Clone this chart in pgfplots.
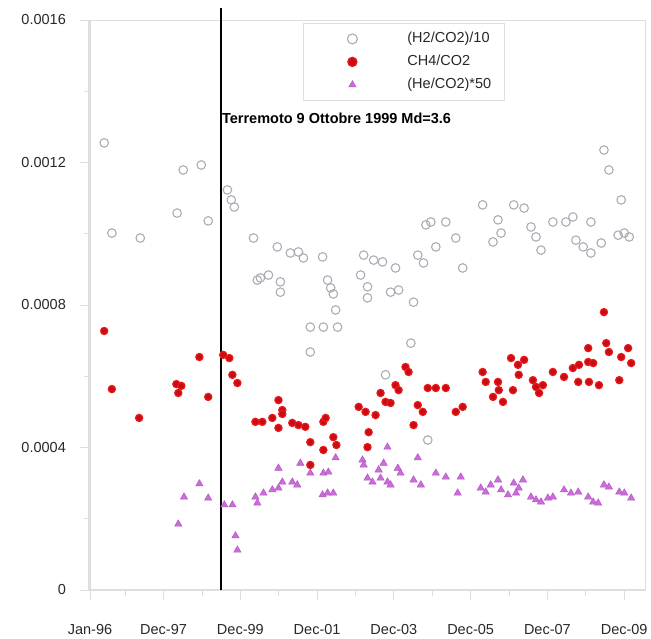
\documentclass[border=0pt]{standalone}
\usepackage{pgfplots}
\pgfplotsset{compat=1.18}
\usepackage{fontspec}
\setmainfont{Liberation Sans}

\definecolor{htwo}{RGB}{172,172,182}
\definecolor{chfour}{RGB}{235,25,25}
\definecolor{chfourdark}{RGB}{200,12,22}
\definecolor{heco}{RGB}{206,106,222}
\definecolor{axisgray}{RGB}{222,222,222}
\definecolor{labgray}{RGB}{40,40,40}

\newcommand{\lab}{\fontsize{14.5bp}{17bp}\selectfont}

% legend entry: a single mark with room on both sides
\pgfplotsset{
  legmark/.style={legend image code/.code={%
    \path[draw=none] (-39bp,0bp) -- (52bp,0bp);
    \path[##1, draw=none, mark size=#1] plot coordinates {(0bp,0bp)};}},
}

\begin{document}
\begin{tikzpicture}
\begin{axis}[
  at={(0,0)}, anchor=south west,
  scale only axis,
  width=555bp, height=570bp,
  xmin=1996.0, xmax=2010.46,
  ymin=0, ymax=0.0016,
  clip=false,
  scaled y ticks=false,
  axis line style={draw=axisgray, line width=0.8bp},
  xtick={1996.0,1997.917,1999.917,2001.917,2003.917,2005.917,2007.917,2009.917},
  xticklabels={Jan-96,Dec-97,Dec-99,Dec-01,Dec-03,Dec-05,Dec-07,Dec-09},
  minor xtick={1996.917,1998.917,2000.917,2002.917,2004.917,2006.917,2008.917},
  ytick={0,0.0004,0.0008,0.0012,0.0016},
  yticklabels={0,0.0004,0.0008,0.0012,0.0016},
  minor ytick={0.0002,0.0006,0.0010,0.0014},
  tick align=outside,
  major tick length=10bp, minor tick length=6bp,
  tick style={draw=axisgray, line width=0.8bp},
  xtick pos=bottom, ytick pos=left,
  /pgf/number format/assume math mode=true,
  xticklabel style={font=\lab, text=labgray, inner sep=0pt, anchor=north, yshift=-24bp},
  yticklabel style={font=\lab, text=labgray, inner sep=0pt, anchor=east, xshift=-14bp},
  legend style={
    at={(213bp,567bp)}, anchor=north west,
    draw=axisgray, line width=0.8bp, fill=white,
    inner xsep=10bp, inner ysep=4bp,
    font=\lab, text=labgray,
    nodes={inner xsep=3bp, inner ysep=4bp, text height=11bp, text depth=4bp},
    row sep=0pt, column sep=0pt,
  },
  legend cell align=left,
]

% H2/CO2 ratio, divided by 10
\addplot[only marks, mark=o, mark size=4.3bp, mark options={draw=htwo, line width=1.1bp}, legmark=5bp]
coordinates {
(1996.37,0.001255) (1996.57,0.001002) (1997.31,0.000988) (1998.27,0.001058)
(1998.43,0.001179) (1998.90,0.001193) (1999.08,0.001036) (1999.58,0.001123)
(1999.68,0.001095) (1999.76,0.001075) (2000.26,0.000988) (2000.36,0.000870)
(2000.44,0.000876) (2000.65,0.000884) (2000.88,0.000963) (2000.96,0.000865)
(2000.96,0.000836) (2001.22,0.000946) (2001.43,0.000949) (2001.56,0.000932)
(2001.74,0.000738) (2001.74,0.000668) (2002.06,0.000935) (2002.08,0.000738)
(2002.19,0.000870) (2002.27,0.000848) (2002.34,0.000831) (2002.40,0.000786)
(2002.45,0.000738) (2003.05,0.000884) (2003.13,0.000940) (2003.23,0.000851)
(2003.23,0.000820) (2003.39,0.000926) (2003.62,0.000921) (2003.70,0.000604)
(2003.83,0.000836) (2004.04,0.000842) (2003.96,0.000904) (2004.36,0.000693)
(2004.43,0.000808) (2004.54,0.000940) (2004.69,0.000918) (2004.75,0.001025)
(2004.88,0.001033) (2005.01,0.000963) (2005.27,0.001033) (2005.53,0.000988)
(2005.71,0.000904) (2004.80,0.000421) (2006.23,0.001081) (2006.50,0.000977)
(2006.63,0.001039) (2006.71,0.001002) (2007.04,0.001081) (2007.31,0.001072)
(2007.49,0.001019) (2007.62,0.000991) (2007.75,0.000954) (2008.06,0.001033)
(2008.40,0.001033) (2008.58,0.001047) (2008.66,0.000982) (2008.85,0.000963)
(2009.05,0.000946) (2009.05,0.001033) (2009.32,0.000974) (2009.39,0.001235)
(2009.52,0.001179) (2009.84,0.001095) (2009.76,0.000996) (2009.92,0.001002)
(2010.05,0.000991)
};
\addlegendentry{(H2/CO2)/10}

% CH4/CO2 ratio
\addplot[only marks, mark=*, mark size=3.6bp, mark options={fill=chfourdark, draw=chfour, line width=1.2bp}, legmark=4.6bp]
coordinates {
(1996.37,0.000727) (1996.57,0.000564) (1997.28,0.000483) (1998.25,0.000578)
(1998.38,0.000573) (1998.30,0.000553) (1998.85,0.000654) (1999.08,0.000542)
(1999.47,0.000660) (1999.63,0.000651) (1999.71,0.000604) (1999.84,0.000581)
(2000.31,0.000472) (2000.49,0.000472) (2000.75,0.000483) (2000.91,0.000533)
(2001.01,0.000505) (2001.01,0.000494) (2000.91,0.000455) (2001.27,0.000469)
(2001.43,0.000463) (2001.61,0.000458) (2001.74,0.000415) (2002.08,0.000472)
(2002.14,0.000483) (2002.08,0.000393) (2002.34,0.000429) (2002.42,0.000407)
(2001.74,0.000351) (2003.00,0.000514) (2003.18,0.000500) (2003.44,0.000491)
(2003.26,0.000443) (2003.23,0.000401) (2003.57,0.000553) (2003.70,0.000528)
(2003.83,0.000525) (2003.96,0.000575) (2004.04,0.000561) (2004.22,0.000626)
(2004.30,0.000612) (2004.54,0.000519) (2004.67,0.000500) (2004.43,0.000463)
(2004.80,0.000567) (2005.01,0.000567) (2005.27,0.000567) (2005.53,0.000500)
(2005.71,0.000514) (2006.23,0.000612) (2006.31,0.000584) (2006.63,0.000584)
(2006.65,0.000561) (2006.50,0.000542) (2006.76,0.000528) (2007.02,0.000561)
(2006.97,0.000651) (2007.15,0.000632) (2007.31,0.000646) (2007.17,0.000604)
(2007.54,0.000589) (2007.62,0.000570) (2007.70,0.000553) (2007.80,0.000575)
(2008.06,0.000612) (2008.35,0.000598) (2008.58,0.000623) (2008.74,0.000632)
(2008.98,0.000640) (2009.11,0.000637) (2008.98,0.000679) (2008.72,0.000584)
(2009.00,0.000584) (2009.26,0.000575) (2009.39,0.000780) (2009.45,0.000693)
(2009.52,0.000668) (2009.84,0.000654) (2010.02,0.000679) (2010.10,0.000637)
(2009.79,0.000589)
};
\addlegendentry{CH4/CO2}

% He/CO2 ratio, multiplied by 50
\addplot[only marks, mark=triangle*, mark size=4.2bp, mark options={fill=heco, draw=heco!85!black, line width=0.5bp}, legmark=4.2bp]
coordinates {
(1998.85,0.000298) (1998.45,0.000261) (1999.08,0.000258) (1998.30,0.000185)
(1999.50,0.000239) (1999.71,0.000239) (1999.79,0.000152) (1999.84,0.000112)
(2000.31,0.000261) (2000.36,0.000244) (2000.52,0.000272) (2000.75,0.000281)
(2000.91,0.000286) (2001.01,0.000303) (2000.91,0.000342) (2001.27,0.000303)
(2001.40,0.000295) (2001.48,0.000356) (2001.74,0.000328) (2002.06,0.000267)
(2002.19,0.000272) (2002.34,0.000272) (2002.08,0.000328) (2002.21,0.000331)
(2002.40,0.000371) (2003.10,0.000365) (2003.13,0.000351) (2003.23,0.000314)
(2003.36,0.000303) (2003.52,0.000337) (2003.65,0.000356) (2003.75,0.000401)
(2003.57,0.000314) (2003.75,0.000303) (2003.83,0.000295) (2004.02,0.000342)
(2004.09,0.000328) (2004.43,0.000309) (2004.62,0.000295) (2004.54,0.000371)
(2005.01,0.000328) (2005.27,0.000317) (2005.66,0.000317) (2005.58,0.000272)
(2006.18,0.000286) (2006.31,0.000275) (2006.44,0.000295) (2006.63,0.000309)
(2006.71,0.000281) (2006.89,0.000267) (2007.04,0.000300) (2007.17,0.000286)
(2007.28,0.000309) (2007.10,0.000272) (2007.49,0.000261) (2007.62,0.000253)
(2007.75,0.000247) (2007.93,0.000258) (2008.06,0.000261) (2008.35,0.000281)
(2008.53,0.000272) (2008.72,0.000275) (2008.98,0.000261) (2009.11,0.000247)
(2009.24,0.000244) (2009.39,0.000295) (2009.52,0.000289) (2009.79,0.000275)
(2009.92,0.000272) (2010.10,0.000258)
};
\addlegendentry{(He/CO2)*50}

% thicker left and bottom axis lines
\draw[draw=axisgray, line width=3bp] (rel axis cs:0,0) -- (rel axis cs:0,1);
\draw[draw=axisgray, line width=2bp] (rel axis cs:0,0) -- (rel axis cs:1,0);

% earthquake of 9 October 1999
\draw[black, line width=2bp] (axis cs:1999.41,0) -- (axis cs:1999.41,0.001634);
\node[anchor=west, inner sep=1bp, font=\fontsize{14.5bp}{17bp}\selectfont\bfseries]
  at (axis cs:1999.41,0.001325) {Terremoto 9 Ottobre 1999 Md=3.6};
\end{axis}
\pgfresetboundingbox
\useasboundingbox (-90bp,-49bp) rectangle (561bp,590bp);
\end{tikzpicture}
\end{document}
